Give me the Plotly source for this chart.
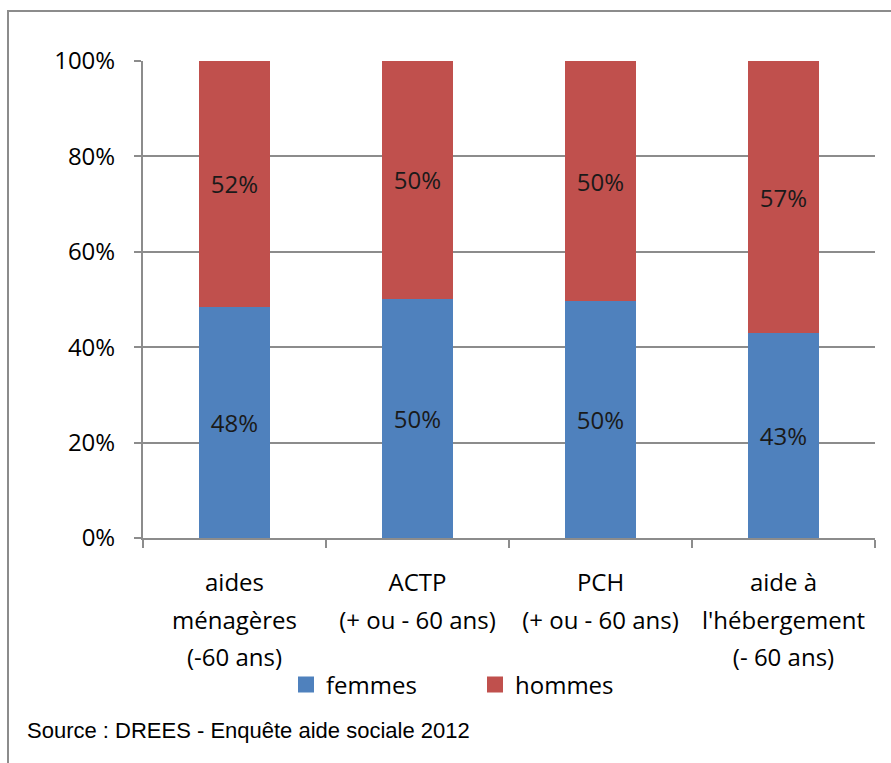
import plotly.graph_objects as go

categories = ["aides<br>ménagères<br>(-60 ans)", "ACTP<br>(+ ou - 60 ans)",
              "PCH<br>(+ ou - 60 ans)", "aide à<br>l'hébergement<br>(- 60 ans)"]
femmes = [48.5, 50.2, 49.6, 42.9]
hommes = [51.5, 49.8, 50.4, 57.1]
femmes_labels = ["48%", "50%", "50%", "43%"]
hommes_labels = ["52%", "50%", "50%", "57%"]
y_ticks = [0, 20, 40, 60, 80, 100]
y_tick_labels = ["0%", "20%", "40%", "60%", "80%", "100%"]
source_text = "Source : DREES - Enquête aide sociale 2012"

BLUE = "#4F81BD"
RED = "#C0504D"
GREY = "#8c8c8c"
FONT = "Open Sans, Liberation Sans, sans-serif"
SRC_FONT = "Liberation Sans, sans-serif"

W, H = 891, 763
L, R, T, B = 143, 16, 61, 225
PW, PH = W - L - R, H - T - B

# x tick text: larger base font (for wider line spacing), lines shown at 24px
x_ticktext = ["<br>".join('<span style="font-size:24px">%s</span>' % ln for ln in c.split("<br>"))
              for c in categories]

fig = go.Figure()
fig.add_trace(go.Bar(x=categories, y=femmes, name="femmes", marker_color=BLUE,
                     text=femmes_labels, textposition="inside", insidetextanchor="middle",
                     textfont=dict(size=24, color="#1a1a1a", family=FONT),
                     marker_line_width=0, showlegend=False))
fig.add_trace(go.Bar(x=categories, y=hommes, name="hommes", marker_color=RED,
                     text=hommes_labels, textposition="inside", insidetextanchor="middle",
                     textfont=dict(size=24, color="#1a1a1a", family=FONT),
                     marker_line_width=0, showlegend=False))
# legend entries (square swatches)
for name, col in [("femmes", BLUE), ("hommes", RED)]:
    fig.add_trace(go.Scatter(x=[categories[0]], y=[None], mode="markers", name=name,
                             marker=dict(symbol="square", size=18, color=col),
                             hoverinfo="skip"))

fig.update_layout(
    barmode="stack", bargap=0.61,
    width=W, height=H,
    margin=dict(l=L, r=R, t=T, b=B),
    paper_bgcolor="white", plot_bgcolor="white",
    font=dict(family=FONT, size=24, color="black"),
    uniformtext=dict(mode=False),
    legend=dict(orientation="h", x=(286 - L) / PW, xanchor="left",
                y=-(685 - (T + PH)) / PH, yanchor="middle",
                font=dict(size=24, family=FONT), itemwidth=30, traceorder="normal",
                entrywidth=144, bgcolor="rgba(0,0,0,0)"),
    showlegend=True,
)
fig.update_yaxes(range=[0, 100], tickvals=y_ticks, ticktext=y_tick_labels,
                 showgrid=True, gridcolor=GREY, gridwidth=2,
                 showline=True, linecolor=GREY, linewidth=2,
                 ticks="outside", ticklen=7, tickcolor=GREY, tickwidth=2,
                 ticklabelstandoff=14,
                 tickfont=dict(size=24, family=FONT), zeroline=False)
fig.update_xaxes(showline=True, linecolor=GREY, linewidth=2,
                 ticks="outside", ticklen=8, tickcolor=GREY, tickwidth=2,
                 tickson="boundaries", ticklabelstandoff=16,
                 tickvals=categories, ticktext=x_ticktext,
                 tickfont=dict(size=29, family=FONT))

fig.add_annotation(text=source_text, xref="paper", yref="paper",
                   x=(25 - L) / PW, xanchor="left", y=-(730 - (T + PH)) / PH, yanchor="middle",
                   showarrow=False, font=dict(size=22, family=SRC_FONT, color="black"))
fig.add_shape(type="rect", xref="paper", yref="paper",
              x0=-(L - 8) / PW, x1=(W + 30 - L) / PW, y0=-(H + 30 - (T + PH)) / PH,
              y1=1 + (T - 11) / PH,
              line=dict(color=GREY, width=2), fillcolor="rgba(0,0,0,0)", layer="below")

fig.write_html("out.html", config={"displayModeBar": False},
               post_script="document.body.style.margin='0';")
